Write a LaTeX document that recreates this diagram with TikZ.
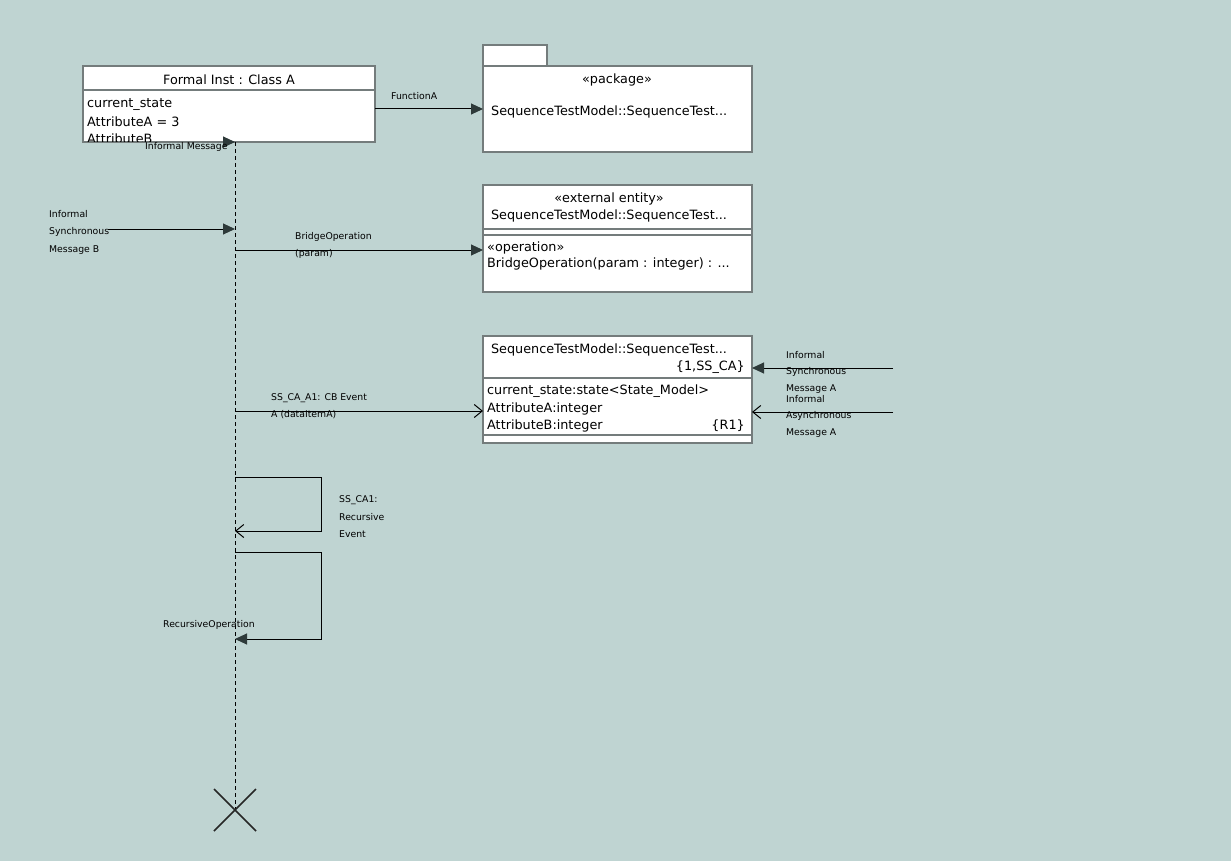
\documentclass[tikz,border=0pt]{standalone}
\usepackage{fontspec}
\setmainfont{DejaVu Sans}
\usetikzlibrary{arrows.meta}
\definecolor{bg}{HTML}{BFD4D2}
\definecolor{edge}{HTML}{747C7C}
\definecolor{tip}{HTML}{2E3A3A}
\tikzset{
  box/.style={draw=edge, line width=1.5pt, fill=white, anchor=north west, inner sep=0pt, outer sep=0pt},
  divider/.style={draw=edge, line width=1.8pt},
  boxtext/.style={font=\fontsize{12.8}{14}\selectfont, inner sep=0pt, yshift=-1.5pt},
  lbl/.style={font=\fontsize{9.3}{10}\selectfont, inner sep=0pt, anchor=west},
  msg/.style={draw=black, line width=1pt},
  sync/.style={msg, -{Triangle[length=12pt,width=11pt,fill=tip,color=tip]}},
  async/.style={msg, -{Straight Barb[length=8pt,width=13pt,line width=1pt]}},
  lifeline/.style={draw=black, line width=1pt, dash pattern=on 4pt off 3pt},
}
\begin{document}
\begin{tikzpicture}[x=1pt,y=-1pt]
\useasboundingbox[fill=bg] (0,0) rectangle (1231,861);

% instance box
\node[box, minimum width=292pt, minimum height=76pt] (fi) at (83,66) {};
\draw[divider] (83,90) -- (375,90);
\node[boxtext] (fih) at (229,78) {Formal Inst : Class A};
\node[boxtext, anchor=west] (fia1) at (87,103) {current\_state};
\node[boxtext, anchor=west] (fia2) at (87,120) {AttributeA = 3};
\begin{scope}
  \clip (83,90) rectangle (375,141.5);
  \node[boxtext, anchor=west] (fia3) at (87,137) {AttributeB};
\end{scope}

% package
\node[box, minimum width=64pt, minimum height=21pt] (pkgtab) at (483,45) {};
\node[box, minimum width=269pt, minimum height=86pt] (pkg) at (483,66) {};
\node[boxtext] (pkgst) at (617,78) {«package»};
\node[boxtext, anchor=west] (pkgname) at (491,110) {SequenceTestModel::SequenceTest...};

% external entity
\node[box, minimum width=269pt, minimum height=107pt] (ee) at (483,185) {};
\node[boxtext] (eest) at (609,197) {«external entity»};
\node[boxtext] (eename) at (609,214) {SequenceTestModel::SequenceTest...};
\draw[divider] (483,229) -- (752,229);
\draw[divider] (483,235) -- (752,235);
\node[boxtext, anchor=west] (eeop) at (487,246) {«operation»};
\node[boxtext, anchor=west] (eeop2) at (487,262) {BridgeOperation(param : integer) : ...};

% class
\node[box, minimum width=269pt, minimum height=107pt] (cls) at (483,336) {};
\node[boxtext] (clsname) at (609,348) {SequenceTestModel::SequenceTest...};
\node[boxtext, anchor=east] (clskey) at (745,366) {\{1,SS\_CA\}};
\draw[divider] (483,378) -- (752,378);
\node[boxtext, anchor=west] (clsa1) at (487,390) {current\_state:state<State\_Model>};
\node[boxtext, anchor=west] (clsa2) at (487,407) {AttributeA:integer};
\node[boxtext, anchor=west] (clsa3) at (487,424) {AttributeB:integer};
\node[boxtext, anchor=east] (clsr) at (745,424) {\{R1\}};
\draw[divider] (483,435) -- (752,435);

% lifeline
\coordinate (lt) at (235,142);
\coordinate (lb) at (235,810);
\draw[lifeline] (lt) -- (lb);
\draw[line width=1.6pt, draw=black!85] (214,789) -- (256,831) (214,831) -- (256,789);

% messages
\coordinate (im0) at (223,142);
\draw[sync] (im0) -- (lt);
\node[lbl] (imlbl) at (145,147) {Informal Message};

\coordinate (fa0) at (375,109);
\coordinate (fa1) at (483,109);
\draw[sync] (fa0) -- (fa1);
\node[lbl] (falbl) at (391,96) {FunctionA};

\coordinate (smb0) at (108,229);
\coordinate (smb1) at (235,229);
\draw[sync] (smb0) -- (smb1);
\node[lbl] at (49,214) {Informal};
\node[lbl] at (49,232) {Synchronous};
\node[lbl] at (49,250) {Message B};

\coordinate (bo0) at (235,250);
\coordinate (bo1) at (483,250);
\draw[sync] (bo0) -- (bo1);
\node[lbl] at (295,237) {BridgeOperation};
\node[lbl] at (295,254) {(param)};

\coordinate (sma0) at (893,368);
\coordinate (sma1) at (752,368);
\draw[sync] (sma0) -- (sma1);
\node[lbl] at (786,355) {Informal};
\node[lbl] at (786,372) {Synchronous};
\node[lbl] at (786,389) {Message A};

\coordinate (ama0) at (893,412);
\coordinate (ama1) at (752,412);
\draw[async] (ama0) -- (ama1);
\node[lbl] at (786,399) {Informal};
\node[lbl] at (786,416) {Asynchronous};
\node[lbl] at (786,433) {Message A};

\coordinate (ev0) at (235,411);
\coordinate (ev1) at (483,411);
\draw[async] (ev0) -- (ev1);
\node[lbl] at (271,398) {SS\_CA\_A1: CB Event};
\node[lbl] at (271,415) {A (dataItemA)};

% self messages
\coordinate (re0) at (235,477);
\coordinate (re1) at (235,531);
\draw[async] (re0) -- (321,477) -- (321,531) -- (re1);
\node[lbl] at (339,500) {SS\_CA1:};
\node[lbl] at (339,517) {Recursive};
\node[lbl] at (339,534) {Event};

\coordinate (ro0) at (235,552);
\coordinate (ro1) at (235,639);
\draw[sync] (ro0) -- (321,552) -- (321,639) -- (ro1);
\node[lbl] at (163,625) {RecursiveOperation};
\end{tikzpicture}
\end{document}
